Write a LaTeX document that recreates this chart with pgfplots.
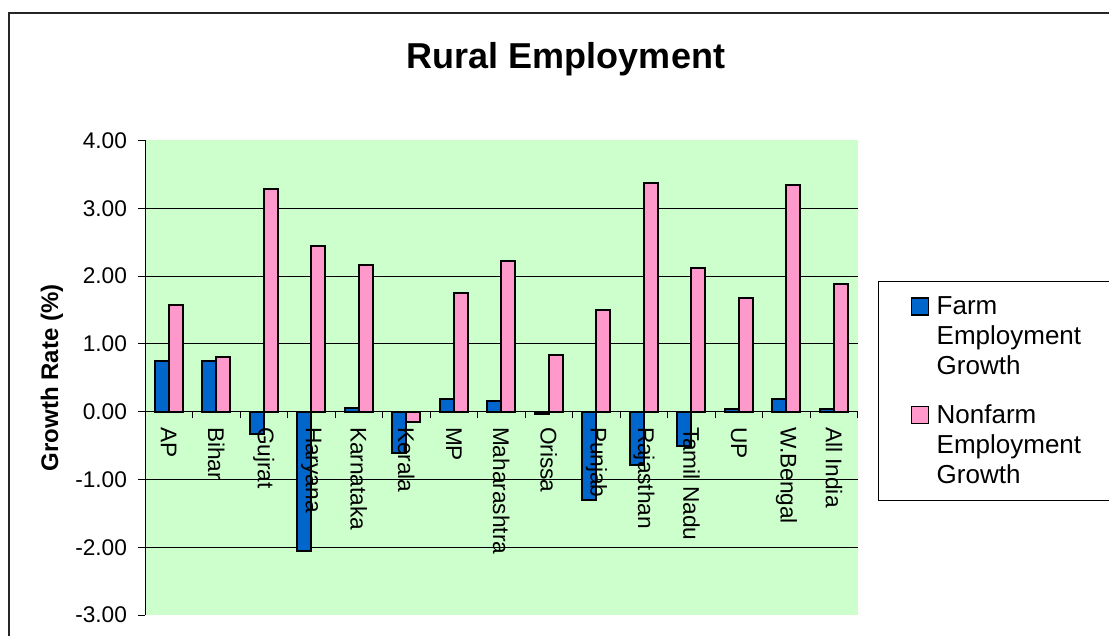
\documentclass[border=0pt]{standalone}
\usepackage{pgfplots}
\pgfplotsset{compat=1.18}
\usepackage{pgfplotstable}
\usepackage{fontspec}
\setmainfont{Liberation Sans}
\definecolor{farm}{RGB}{0,102,204}
\definecolor{nonfarm}{RGB}{255,153,204}
\definecolor{bg}{RGB}{204,255,204}
\pgfplotsset{
  common/.style={
    at={(108.75pt,15pt)}, anchor=south west,
    width=534.5pt, height=355.9pt, scale only axis,
    xmin=-0.5, xmax=14.5, ymin=-3, ymax=4,
  },
}
\pgfplotstableread{
x farm nonfarm
0 0.75 1.57
1 0.75 0.81
2 -0.33 3.28
3 -2.06 2.45
4 0.06 2.16
5 -0.61 -0.15
6 0.19 1.75
7 0.16 2.22
8 -0.04 0.83
9 -1.30 1.50
10 -0.79 3.37
11 -0.51 2.12
12 0.04 1.67
13 0.18 3.34
14 0.04 1.89
}\data
\begin{document}
\begin{tikzpicture}
\path[use as bounding box] (0,0) rectangle (831.75pt,476.25pt);
\fill[white] (0,0) rectangle (831.75pt,476.25pt);
\draw[line width=0.8pt, black!85] (6.75pt,-10pt) rectangle (850pt,466.5pt);
\node[font=\bfseries\fontsize{27}{32}\selectfont] at (424.5pt,431.5pt) {Rural Employment};
\begin{axis}[
  common,
  axis background/.style={fill=bg},
  axis x line=middle, axis y line=left,
  axis line style={-, black, line width=0.6pt},
  ybar=0pt, bar width=0.295,
  xtick={-0.5,0.5,...,14.5},
  xticklabels={},
  major tick length=5pt,
  tick align=outside,
  tick style={black, line width=0.6pt},
  ytick={-3,...,4},
  yticklabels={-3.00,-2.00,-1.00,0.00,1.00,2.00,3.00,4.00},
  yticklabel style={font=\fontsize{17}{20}\selectfont, xshift=-5pt},
  extra y ticks={-2,-1,1,2,3},
  extra y tick labels={},
  extra y tick style={grid=major, major grid style={black, line width=0.6pt}},
  ylabel={Growth Rate (\%)},
  ylabel style={at={(axis description cs:-0.1305,0.5)}, anchor=center, font=\bfseries\fontsize{18}{21}\selectfont},
  legend style={at={(axis description cs:1.0285,0.7045)}, anchor=north west, draw=black, line width=0.8pt,
    font=\fontsize{19.5}{22.5}\selectfont, cells={anchor=west, align=left}, row sep=17pt,
    inner xsep=24pt, inner ysep=9.5pt},
  legend cell align=left,
  legend image code/.code={\draw[#1, line width=1.2pt] (0pt,16.1pt) rectangle (12.75pt,28.9pt);
     \path[draw=none,fill=none] (0pt,0pt) -- (17pt,0pt);},
]
\addplot[fill=farm, draw=black, line width=1.5pt] table[x=x,y=farm]{\data};
\addlegendentry{Farm\\Employment\\Growth}
\addplot[fill=nonfarm, draw=black, line width=1.5pt] table[x=x,y=nonfarm]{\data};
\addlegendentry{Nonfarm\\Employment\\Growth}
\end{axis}
\begin{axis}[
  common,
  axis x line=middle, axis y line=none,
  axis line style={draw=none},
  xtick={0,...,14},
  xticklabels={AP,Bihar,Gujrat,Haryana,Karnataka,Kerala,MP,Maharashtra,Orissa,Punjab,Rajasthan,Tamil Nadu,UP,W.Bengal,All India},
  major tick length=0pt,
  xtick style={draw=none},
  ytick=\empty,
  xticklabel shift=8pt,
  xticklabel style={rotate=-90, anchor=west, font=\fontsize{17}{20}\selectfont},
]
\end{axis}
\end{tikzpicture}
\end{document}
